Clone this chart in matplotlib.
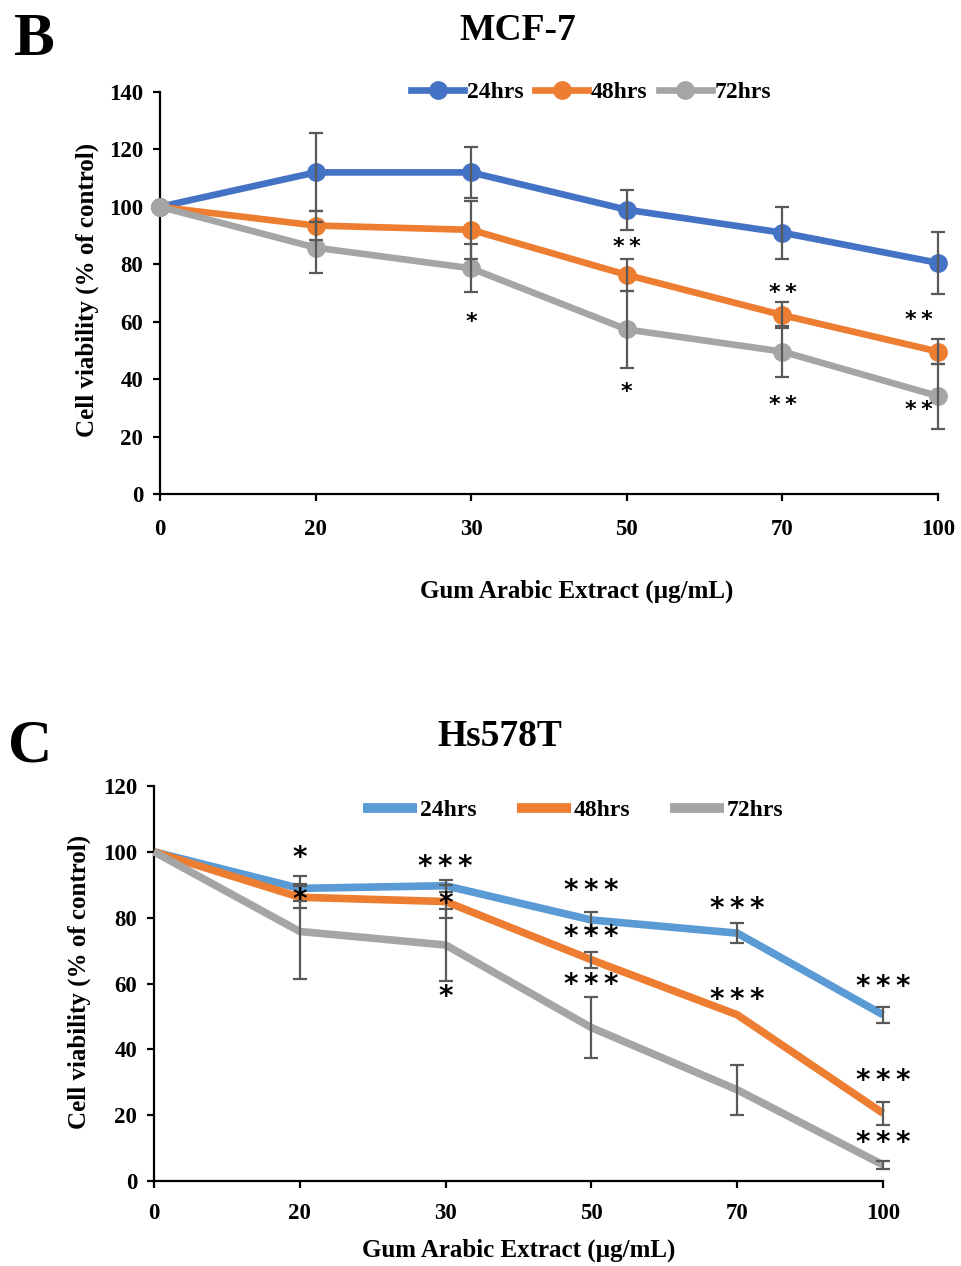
import matplotlib
matplotlib.use("Agg")
import matplotlib.pyplot as plt
import numpy as np

plt.rcParams['font.family'] = ['Liberation Serif', 'DejaVu Serif']
plt.rcParams['font.weight'] = 'bold'

# ---------------- data ----------------
conc_labels = ["0", "20", "30", "50", "70", "100"]
series_names = ["24hrs", "48hrs", "72hrs"]

# Panel B : MCF-7
mcf_24 = [100, 112, 112, 99, 91, 80.5]
mcf_48 = [100, 93.5, 92, 76.3, 62.3, 49.6]
mcf_72 = [100, 85.8, 78.6, 57.3, 49.6, 34.1]
mcf_24_err = [0, 13.6, 9, 7, 9, 10.7]
mcf_48_err = [0, 5, 10, 5.5, 4.5, 4.5]
mcf_72_err = [0, 9, 8.4, 13.5, 9, 11.3]
# (concentration index, y value, label)
mcf_stars = [(3, 86, "**"), (4, 70, "**"), (4.88, 60.5, "**"),
             (2, 60, "*"), (3, 35.6, "*"), (4, 31, "**"), (4.88, 29.3, "**")]

# Panel C : Hs578T
hs_24 = [100, 88.9, 89.7, 79.3, 75.3, 50.5]
hs_48 = [100, 86.2, 84.9, 67.2, 50.5, 20.6]
hs_72 = [100, 75.8, 71.7, 46.6, 27.7, 4.9]
hs_24_err = [0, 3.8, 1.8, 2.5, 3, 2.5]
hs_48_err = [0, 3.3, 5, 2.5, 0, 3.5]
hs_72_err = [0, 14.4, 11, 9.2, 7.6, 1.2]
hs_stars = [(1, 98, "*"), (1, 85.5, "*"), (2, 95.5, "***"), (2, 84, "*"), (2, 56, "*"),
            (3, 88, "***"), (3, 74, "***"), (3, 59.5, "***"),
            (4, 82.5, "***"), (4, 55, "***"),
            (5, 59, "***"), (5, 30.4, "***"), (5, 11.6, "***")]

W, H = 961, 1266
fig = plt.figure(figsize=(W / 100, H / 100), dpi=100)

def axrect(l, t, r, b):
    return [l / W, 1 - b / H, (r - l) / W, (b - t) / H]

ERR_C = "#595959"
TICK_FS = 16.5
SP = "\u2009"  # thin space between asterisks

def spaced(s):
    return SP.join(list(s))

def style_axis(ax, ymax, xpad, ypad):
    x = np.arange(len(conc_labels))
    ax.set_xlim(0, len(conc_labels) - 1)
    ax.set_ylim(0, ymax)
    ax.set_xticks(x)
    ax.set_xticklabels(conc_labels)
    ax.set_yticks(np.arange(0, ymax + 1, 20))
    for s in ["top", "right"]:
        ax.spines[s].set_visible(False)
    for s in ["left", "bottom"]:
        ax.spines[s].set_linewidth(1.6)
        ax.spines[s].set_color("black")
    ax.tick_params(axis="both", direction="out", length=5, width=1.6, labelsize=TICK_FS)
    ax.tick_params(axis="x", pad=xpad)
    ax.tick_params(axis="y", pad=ypad)
    for lab in ax.get_xticklabels() + ax.get_yticklabels():
        lab.set_fontweight("bold")

LEG_PROP = {"family": "Liberation Serif", "weight": "bold", "size": 17}

# ---------------- Panel B ----------------
axB = fig.add_axes(axrect(160, 92, 938, 494))
x = np.arange(len(conc_labels))
colsB = ["#4472C4", "#ED7D31", "#A5A5A5"]
for vals, errs, c, name in zip([mcf_24, mcf_48, mcf_72], [mcf_24_err, mcf_48_err, mcf_72_err], colsB, series_names):
    axB.plot(x, vals, color=c, lw=4.8, marker="o", ms=12.5, label=name, clip_on=False, zorder=3)
    e = np.array(errs)
    m = e > 0
    axB.errorbar(x[m], np.array(vals)[m], yerr=e[m], fmt="none", ecolor=ERR_C, elinewidth=1.6,
                 capsize=5, capthick=1.6, zorder=4, clip_on=False)
for xi, yv, t in mcf_stars:
    axB.text(xi, yv, spaced(t), ha="center", va="center", fontsize=16, family="DejaVu Sans", zorder=5)
style_axis(axB, 140, 13, 7)
legB = axB.legend(loc="center", bbox_to_anchor=(0.554, 1.0), ncol=3, frameon=False,
                  handlelength=2.25, handletextpad=0.1, columnspacing=0.5, prop=LEG_PROP)
axB.set_xlabel("Gum Arabic Extract (µg/mL)", fontsize=18, fontweight="bold")
axB.xaxis.set_label_coords(0.536, -0.212)
axB.set_ylabel("Cell viability (% of control)", fontsize=18, fontweight="bold")
axB.yaxis.set_label_coords(-0.079, 0.507)

# ---------------- Panel C ----------------
axC = fig.add_axes(axrect(154, 786, 883, 1181))
colsC = ["#5B9BD5", "#ED7D31", "#A5A5A5"]
for vals, errs, c, name in zip([hs_24, hs_48, hs_72], [hs_24_err, hs_48_err, hs_72_err], colsC, series_names):
    axC.plot(x, vals, color=c, lw=5.5, label=name, clip_on=False, zorder=3, solid_capstyle="butt")
    e = np.array(errs)
    m = e > 0
    axC.errorbar(x[m], np.array(vals)[m], yerr=e[m], fmt="none", ecolor=ERR_C, elinewidth=1.6,
                 capsize=5, capthick=1.6, zorder=4, clip_on=False)
for xi, yv, t in hs_stars:
    axC.text(xi, yv, spaced(t), ha="center", va="center", fontsize=20, family="DejaVu Sans",
             fontweight="bold", zorder=5)
style_axis(axC, 120, 11, 7)
legC = axC.legend(loc="center", bbox_to_anchor=(0.575, 0.939), ncol=3, frameon=False,
                  handlelength=2.3, handletextpad=0.1, columnspacing=1.7, prop=LEG_PROP)
for h in legC.get_lines():
    h.set_linewidth(7)
axC.set_xlabel("Gum Arabic Extract (µg/mL)", fontsize=18, fontweight="bold")
axC.xaxis.set_label_coords(0.5, -0.145)
axC.set_ylabel("Cell viability (% of control)", fontsize=18, fontweight="bold")
axC.yaxis.set_label_coords(-0.086, 0.504)

# ---------------- titles / panel letters ----------------
fig.text(518 / W, 1 - 30 / H, "MCF-7", ha="center", va="center", fontsize=27, fontweight="bold")
fig.text(500 / W, 1 - 737 / H, "Hs578T", ha="center", va="center", fontsize=27, fontweight="bold")
fig.text(34 / W, 1 - 40 / H, "B", ha="center", va="center", fontsize=44, fontweight="bold")
fig.text(30 / W, 1 - 747 / H, "C", ha="center", va="center", fontsize=44, fontweight="bold")

fig.savefig("out.png", dpi=100)
